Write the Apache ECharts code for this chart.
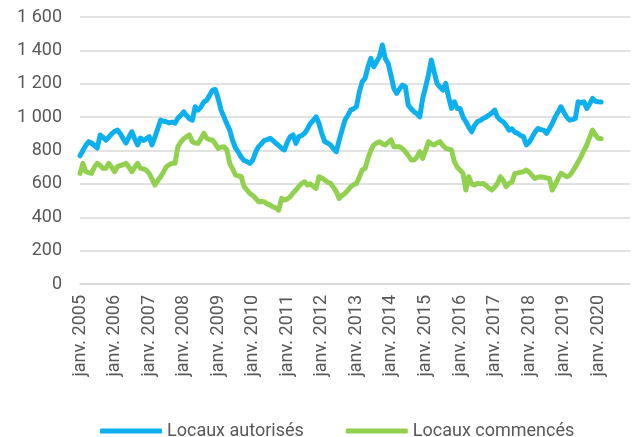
<!DOCTYPE html>
<html>
<head>
<meta charset="utf-8">
<script src="https://cdn.jsdelivr.net/npm/echarts@6/dist/echarts.min.js"></script>
<style>
  html, body { margin: 0; padding: 0; background: #fff; }
  #chart { width: 640px; height: 437px; }
</style>
</head>
<body>
<div id="chart"></div>
<script>
// axis runs Jan 2005 .. Dec 2020, one category per month
const years = [2005, 2006, 2007, 2008, 2009, 2010, 2011, 2012, 2013, 2014, 2015, 2016, 2017, 2018, 2019, 2020];
const monthNames = ["janv.", "févr.", "mars", "avr.", "mai", "juin", "juil.", "août", "sept.", "oct.", "nov.", "déc."];
const yTicks = [0, 200, 400, 600, 800, 1000, 1200, 1400, 1600];

// monthly values, Jan 2005 .. Feb 2020
const autorises = [
  768, 800, 830, 853, 845, 830, 815, 893, 880, 862, 880, 900,
  915, 922, 900, 870, 845, 880, 912, 870, 833, 875, 860, 870,
  883, 833, 880, 930, 982, 975, 972, 965, 970, 964, 994, 1010,
  1032, 1010, 990, 982, 1062, 1042, 1060, 1090, 1102, 1130, 1162, 1166,
  1110, 1042, 1000, 960, 922, 860, 815, 790, 760, 740, 733, 723,
  743, 790, 823, 840, 860, 865, 873, 860, 843, 830, 813, 803,
  850, 883, 893, 843, 883, 890, 903, 930, 962, 980, 1002, 962,
  900, 853, 845, 833, 810, 793, 860, 922, 982, 1010, 1042, 1050,
  1062, 1150, 1212, 1232, 1300, 1352, 1302, 1332, 1362, 1432, 1352, 1322,
  1250, 1172, 1142, 1170, 1192, 1182, 1072, 1050, 1032, 1020, 1002, 1112,
  1180, 1252, 1342, 1270, 1202, 1180, 1162, 1202, 1120, 1052, 1092, 1052,
  1052, 1000, 972, 940, 912, 950, 972, 980, 992, 1000, 1012, 1025,
  1042, 1000, 982, 972, 950, 922, 930, 910, 903, 890, 883, 833,
  850, 880, 910, 932, 925, 922, 903, 930, 962, 1000, 1030, 1062,
  1030, 1000, 982, 985, 992, 1092, 1085, 1092, 1052, 1080, 1112, 1095,
  1092, 1090
];
const commences = [
  663, 723, 673, 668, 663, 700, 723, 710, 693, 693, 723, 700,
  673, 703, 710, 715, 723, 700, 673, 700, 723, 693, 690, 683,
  663, 630, 593, 620, 643, 670, 703, 715, 723, 723, 823, 850,
  870, 883, 893, 853, 845, 843, 870, 903, 873, 865, 863, 840,
  813, 820, 823, 803, 723, 690, 653, 648, 643, 583, 563, 543,
  530, 513, 493, 495, 493, 480, 473, 463, 455, 443, 513, 503,
  510, 523, 545, 563, 585, 603, 613, 593, 600, 585, 573, 643,
  635, 623, 610, 603, 580, 553, 513, 530, 543, 560, 583, 595,
  603, 640, 683, 693, 753, 800, 833, 845, 853, 840, 833, 850,
  863, 823, 823, 823, 810, 793, 770, 743, 743, 760, 793, 753,
  800, 853, 840, 833, 845, 853, 830, 813, 808, 803, 733, 700,
  683, 663, 563, 643, 600, 593, 603, 600, 603, 590, 575, 563,
  580, 603, 643, 620, 583, 603, 610, 663, 665, 670, 673, 683,
  670, 650, 633, 640, 643, 640, 635, 633, 563, 593, 630, 663,
  655, 643, 650, 673, 700, 733, 763, 800, 833, 880, 923, 893,
  873, 870
];

const categories = [];
years.forEach((y) => monthNames.forEach((m) => categories.push(`${m} ${y}`)));

const fmt = (v) => String(v).replace(/\B(?=(\d{3})+(?!\d))/g, " ");
const labelColor = "#595959";
const gridColor = "#d9d9d9";

const chart = echarts.init(document.getElementById("chart"));
chart.setOption({
  animation: false,
  backgroundColor: "#fff",
  textStyle: { fontFamily: "Roboto" },
  grid: { left: 80, right: 10, top: 17, bottom: 153 },
  legend: {
    left: 95,
    top: 417,
    itemWidth: 62,
    itemHeight: 5,
    itemGap: 42,
    icon: "roundRect",
    textStyle: { color: labelColor, fontSize: 18, fontFamily: "Roboto" },
    data: ["Locaux autorisés", "Locaux commencés"],
  },
  xAxis: {
    type: "category",
    data: categories,
    boundaryGap: false,
    axisLine: { lineStyle: { color: gridColor, width: 1.5 } },
    axisTick: { show: false },
    axisLabel: {
      rotate: 90,
      margin: 11,
      color: labelColor,
      fontSize: 18,
      interval: (i) => i % 12 === 0,
    },
  },
  yAxis: {
    type: "value",
    min: yTicks[0],
    max: yTicks[yTicks.length - 1],
    interval: 200,
    axisLine: { show: false },
    axisTick: { show: false },
    axisLabel: { color: labelColor, fontSize: 18, margin: 18, formatter: fmt },
    splitLine: { lineStyle: { color: gridColor, width: 1.5 } },
  },
  series: [
    {
      name: "Locaux autorisés",
      type: "line",
      data: autorises,
      showSymbol: false,
      lineStyle: { color: "#0cb0ee", width: 5, cap: "round", join: "round" },
      itemStyle: { color: "#0cb0ee" },
    },
    {
      name: "Locaux commencés",
      type: "line",
      data: commences,
      showSymbol: false,
      lineStyle: { color: "#92d050", width: 5, cap: "round", join: "round" },
      itemStyle: { color: "#92d050" },
    },
  ],
});
</script>
</body>
</html>
